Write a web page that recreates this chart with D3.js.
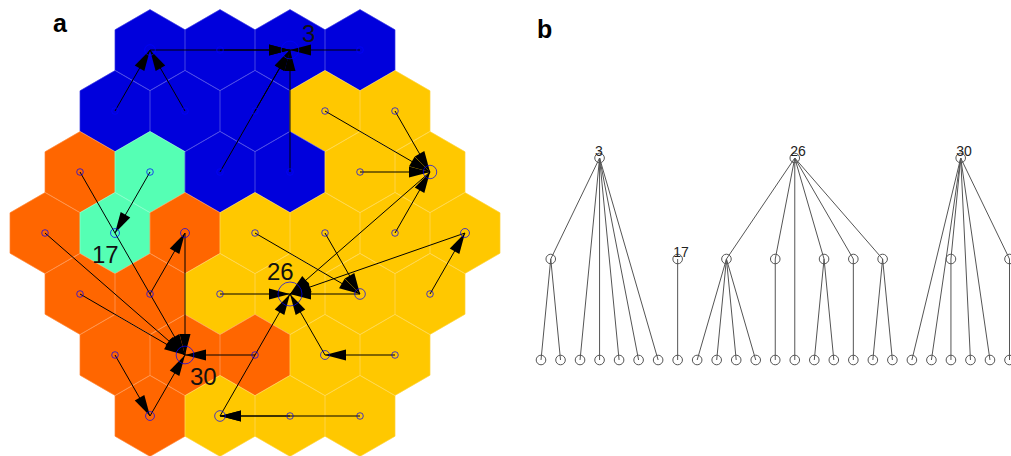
<!DOCTYPE html>
<html><head><meta charset="utf-8">
<script src="https://cdn.jsdelivr.net/npm/d3@7"></script>
<style>
body{margin:0;background:#fff;}
svg{display:block;font-family:Arial,"Liberation Sans",sans-serif;}
</style>
</head><body>
<svg id="c" width="1011" height="456"></svg>
<script>
// ---- data ----
// SOM units numbered 1..37 row by row on a hexagonal grid
const rowLengths = [4, 5, 6, 7, 6, 5, 4];
const rowStartCols = [4, 3, 2, 1, 2, 3, 4];          // in half-hex steps
// parent unit of each unit (0 = cluster root)
const parents = [3, 3, 0, 3, 1, 1, 3, 15, 15, 30,
                 17, 3, 3, 15, 26, 30, 0, 30, 27, 27,
                 15, 26, 30, 18, 26, 0, 26, 22, 34, 0,
                 30, 26, 32, 30, 26, 35, 35];
const clusterRoots = [3, 17, 26, 30];
const clusterColors = ["#0000dc", "#55ffb4", "#ffc800", "#ff6600"];
const panelLabels = ["a", "b"];

// ---- build ----
const units = [];
let uid = 1;
rowLengths.forEach((n, r) => {
  for (let k = 0; k < n; k++) {
    units.push({id: uid, row: r, col: rowStartCols[r] + 2 * k, parent: parents[uid - 1]});
    uid++;
  }
});
const byId = new Map(units.map(u => [u.id, u]));
function rootOf(u) { while (u.parent) u = byId.get(u.parent); return u.id; }
const color = d3.scaleOrdinal().domain(clusterRoots).range(clusterColors);

const strat = d3.stratify()
  .id(d => d.id)
  .parentId(d => d.pid)(
    [{id: "top", pid: null}].concat(units.map(u => ({id: String(u.id), pid: u.parent ? String(u.parent) : "top"})))
  );
strat.sort((a, b) => (+a.id) - (+b.id));
const hNode = new Map(strat.descendants().map(n => [n.id, n]));

const svg = d3.select("#c");

// ---- panel a : hex map ----
const x = d3.scaleLinear().domain([0, 14]).range([10, 500]);
const y = d3.scaleLinear().domain([0, 6]).range([50, 416]);
const R = (x(2) - x(0)) / Math.sqrt(3);
const hexPts = d3.range(6).map(i => {
  const a = Math.PI / 3 * i - Math.PI / 2;
  return [R * Math.cos(a), R * Math.sin(a)];
});
const hexPath = "M" + hexPts.map(p => p.join(",")).join("L") + "Z";

const gA = svg.append("g");
gA.selectAll("path.hex").data(units).join("path")
  .attr("class", "hex")
  .attr("d", hexPath)
  .attr("transform", d => `translate(${x(d.col)},${y(d.row)})`)
  .attr("fill", d => color(rootOf(d)))
  .attr("stroke", d => color(rootOf(d)))
  .attr("stroke-width", 0.6);
gA.selectAll("path.hexb").data(units).join("path")
  .attr("d", hexPath)
  .attr("transform", d => `translate(${x(d.col)},${y(d.row)})`)
  .attr("fill", "none")
  .attr("stroke", "#ffffff")
  .attr("stroke-opacity", 0.14)
  .attr("stroke-width", 1);

const arrows = units.filter(u => u.parent);
gA.selectAll("line.arr").data(arrows).join("line")
  .attr("x1", d => x(d.col)).attr("y1", d => y(d.row))
  .attr("x2", d => x(byId.get(d.parent).col)).attr("y2", d => y(byId.get(d.parent).row))
  .attr("stroke", "#000").attr("stroke-width", 1);
const HL = 21, HW = 5.5;
gA.selectAll("path.head").data(arrows).join("path")
  .attr("d", d => {
    const p = byId.get(d.parent);
    const x2 = x(p.col), y2 = y(p.row), x1 = x(d.col), y1 = y(d.row);
    const L = Math.hypot(x2 - x1, y2 - y1), ux = (x2 - x1) / L, uy = (y2 - y1) / L;
    const bx = x2 - ux * HL, by = y2 - uy * HL;
    return `M${x2},${y2}L${bx - uy * HW},${by + ux * HW}L${bx + uy * HW},${by - ux * HW}Z`;
  })
  .attr("fill", "#000");

const rScale = d3.scaleSqrt().domain([1, 17]).range([3.3, 12]);
gA.selectAll("circle.u").data(units).join("circle")
  .attr("cx", d => x(d.col)).attr("cy", d => y(d.row))
  .attr("r", d => rScale(hNode.get(String(d.id)).descendants().length))
  .attr("fill", "none")
  .attr("stroke", "#0000ff").attr("stroke-opacity", 0.7).attr("stroke-width", 1);

const mapLabelOffset = {3: [12, -8], 17: [-23, 30], 26: [-23, -14], 30: [5, 30]};
gA.selectAll("text.cl").data(clusterRoots).join("text")
  .attr("x", d => x(byId.get(d).col) + mapLabelOffset[d][0])
  .attr("y", d => y(byId.get(d).row) + mapLabelOffset[d][1])
  .attr("font-size", 24).attr("fill", "#111")
  .text(d => d);

// ---- panel b : cluster trees ----
const gB = svg.append("g");
const leaves = strat.leaves();
const xT = d3.scalePoint().domain(leaves.map(l => l.id)).range([541, 1009.5]);
const yT = d3.scaleLinear().domain([0, 2]).range([360, 158]);
strat.descendants().forEach(n => {
  n.tx = d3.mean(n.leaves(), l => xT(l.id));
  n.ty = yT(n.height);
});
const treeNodes = strat.descendants().filter(n => n.id !== "top");
const treeLinks = strat.links().filter(l => l.source.id !== "top");
gB.selectAll("line").data(treeLinks).join("line")
  .attr("x1", d => d.source.tx).attr("y1", d => d.source.ty)
  .attr("x2", d => d.target.tx).attr("y2", d => d.target.ty)
  .attr("stroke", "#555").attr("stroke-width", 1);
gB.selectAll("circle").data(treeNodes).join("circle")
  .attr("cx", d => d.tx).attr("cy", d => d.ty).attr("r", 4.8)
  .attr("fill", "none").attr("stroke", "#555").attr("stroke-width", 1);
gB.selectAll("text").data(treeNodes.filter(n => clusterRoots.includes(+n.id))).join("text")
  .attr("x", d => d.tx - 4.5).attr("y", d => d.ty - 2)
  .attr("font-size", 14).attr("fill", "#222")
  .text(d => d.id);

// panel letters
svg.selectAll("text.panel").data(panelLabels).join("text")
  .attr("class", "panel")
  .attr("x", (d, i) => [53, 537][i]).attr("y", (d, i) => [32, 38][i])
  .attr("font-size", 25).attr("font-weight", "bold").attr("fill", "#000")
  .text(d => d);
</script>
</body></html>
